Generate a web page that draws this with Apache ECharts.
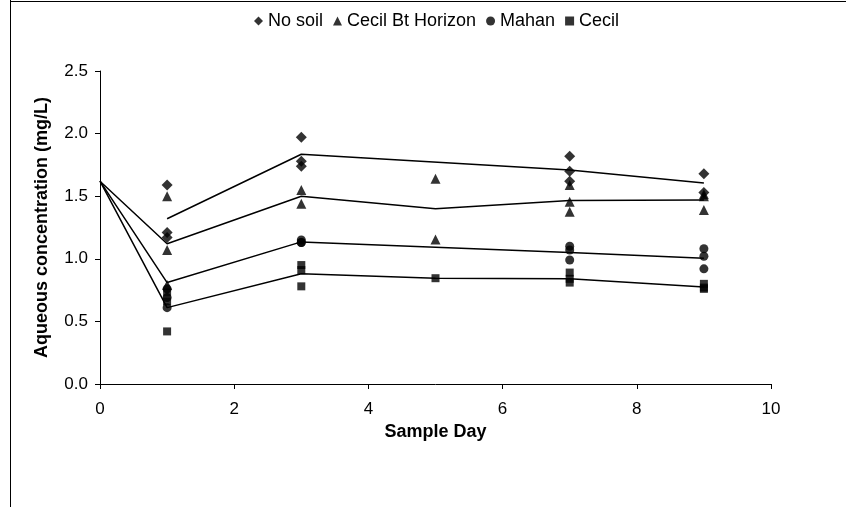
<!DOCTYPE html>
<html>
<head>
<meta charset="utf-8">
<script src="https://cdn.jsdelivr.net/npm/echarts@6/dist/echarts.min.js"></script>
<style>
html,body{margin:0;padding:0;background:#fff;}
#c{width:846px;height:507px;}
</style>
</head>
<body>
<div id="c"></div>
<script>
// Replicate measurements [day, mg/L]
const noSoilPts = [[1,1.59],[1,1.21],[1,1.17],[3,1.97],[3,1.78],[3,1.74],[7,1.82],[7,1.70],[7,1.62],[9,1.68],[9,1.53]];
const cecilBtPts = [[1,1.50],[1,1.07],[1,0.79],[3,1.55],[3,1.44],[5,1.64],[5,1.155],[7,1.59],[7,1.455],[7,1.375],[9,1.515],[9,1.50],[9,1.39]];
const mahanPts = [[1,0.76],[1,0.69],[1,0.61],[3,1.15],[3,1.13],[3,1.13],[7,1.10],[7,1.07],[7,0.99],[9,1.08],[9,1.02],[9,0.92]];
const cecilPts = [[1,0.73],[1,0.66],[1,0.42],[3,0.95],[3,0.91],[3,0.78],[5,0.845],[7,0.89],[7,0.84],[7,0.81],[9,0.80],[9,0.77],[9,0.76]];
// Mean lines [day, mg/L]
const noSoilLine = [[1,1.32],[3,1.835],[7,1.71],[9,1.605]];
const cecilBtLine = [[0,1.62],[1,1.12],[3,1.50],[5,1.40],[7,1.465],[9,1.47]];
const mahanLine = [[0,1.62],[1,0.81],[3,1.135],[7,1.05],[9,1.005]];
const cecilLine = [[0,1.62],[1,0.61],[3,0.88],[5,0.845],[7,0.84],[9,0.775]];
const seriesNames = ['No soil','Cecil Bt Horizon','Mahan','Cecil'];
const xTicks = {min:0, max:10, interval:2};
const yTicks = {min:0, max:2.5, interval:0.5};

const FONT = '"Liberation Sans", Arial, sans-serif';
const diamond = 'path://M0,-1L1,0L0,1L-1,0Z';
const chart = echarts.init(document.getElementById('c'), null, {renderer:'canvas'});

function lineSeries(data){
  return {type:'line', data:data, showSymbol:false, symbol:'none', silent:true,
    lineStyle:{color:'#000', width:1.5}, z:2, animation:false};
}
function scatter(name, data, symbol, size){
  return {type:'scatter', name:name, data:data, symbol:symbol, symbolSize:size,
    itemStyle:{color:'#000'}, z:3, animation:false};
}

chart.setOption({
  animation:false,
  backgroundColor:'#fff',
  textStyle:{fontFamily:FONT},
  legend:{
    data:[
      {name:seriesNames[0], icon:diamond},
      {name:seriesNames[1], icon:'triangle'},
      {name:seriesNames[2], icon:'circle'},
      {name:seriesNames[3], icon:'rect'}
    ],
    top:7, left:249, itemWidth:9, itemHeight:9, itemGap:10,
    textStyle:{fontFamily:FONT, fontSize:18, color:'#000'},
    selectedMode:false
  },
  grid:{left:100, right:75, top:71, bottom:123},
  xAxis:{
    type:'value', min:xTicks.min, max:xTicks.max, interval:xTicks.interval,
    name:'Sample Day', nameLocation:'middle', nameGap:32,
    nameTextStyle:{fontFamily:FONT, fontSize:18, fontWeight:'bold', color:'#000'},
    axisLine:{show:true, lineStyle:{color:'#000', width:1}},
    axisTick:{show:true, inside:false, length:5, lineStyle:{color:'#000'}},
    axisLabel:{fontFamily:FONT, fontSize:17, color:'#000', margin:17},
    splitLine:{show:false}
  },
  yAxis:{
    type:'value', min:yTicks.min, max:yTicks.max, interval:yTicks.interval,
    name:'Aqueous concentration (mg/L)', nameLocation:'middle', nameGap:49,
    nameTextStyle:{fontFamily:FONT, fontSize:18, fontWeight:'bold', color:'#000'},
    axisLine:{show:true, lineStyle:{color:'#000', width:1}},
    axisTick:{show:true, inside:false, length:5, lineStyle:{color:'#000'}},
    axisLabel:{fontFamily:FONT, fontSize:17, color:'#000', margin:12,
      formatter:function(v){return v.toFixed(1);}},
    splitLine:{show:false}
  },
  graphic:[
    {type:'line', shape:{x1:10.5, y1:0, x2:10.5, y2:507}, style:{stroke:'#000', lineWidth:1}},
    {type:'line', shape:{x1:10, y1:1.5, x2:846, y2:1.5}, style:{stroke:'#000', lineWidth:1}}
  ],
  series:[
    lineSeries(noSoilLine),
    lineSeries(cecilBtLine),
    lineSeries(mahanLine),
    lineSeries(cecilLine),
    scatter(seriesNames[0], noSoilPts, diamond, 11),
    scatter(seriesNames[1], cecilBtPts, 'triangle', 10),
    scatter(seriesNames[2], mahanPts, 'circle', 9),
    scatter(seriesNames[3], cecilPts, 'rect', 8)
  ]
});
</script>
</body>
</html>
